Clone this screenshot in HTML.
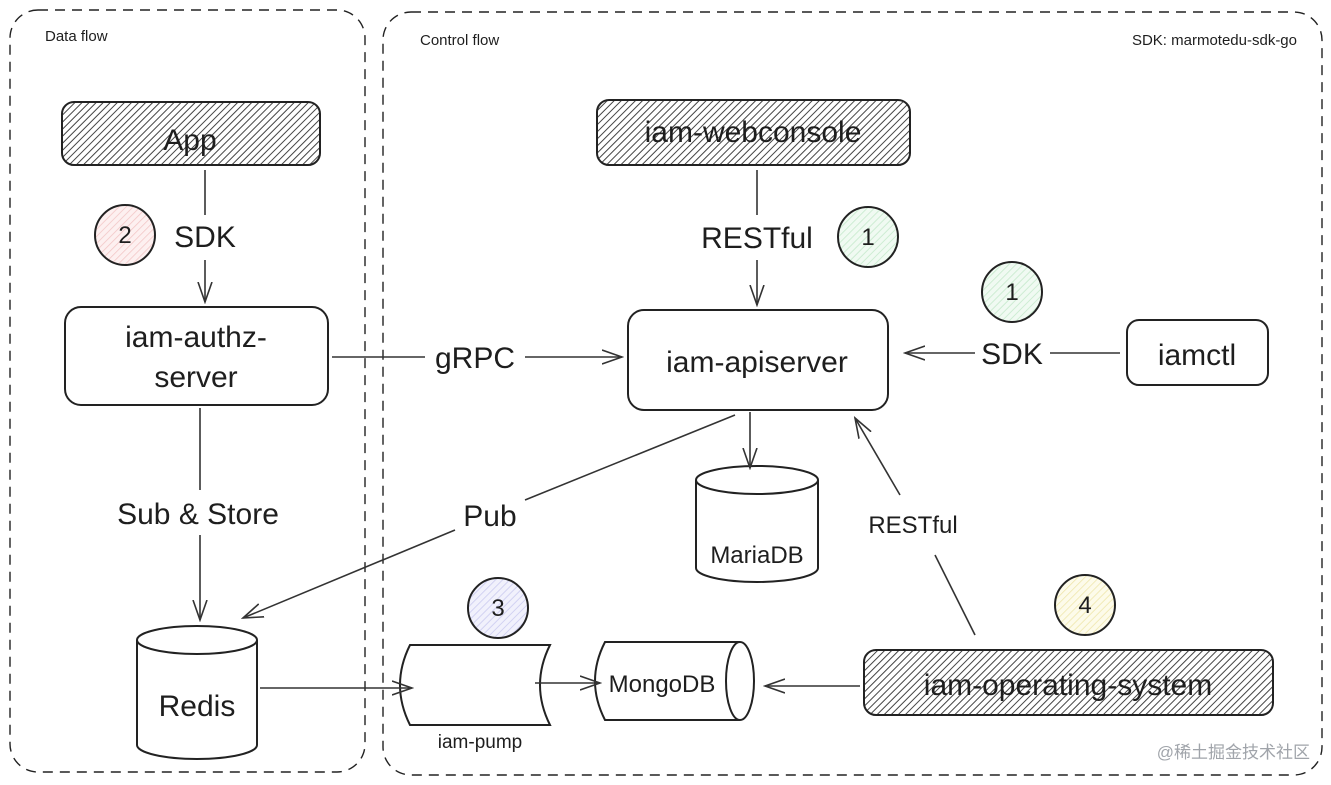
<!DOCTYPE html>
<html><head><meta charset="utf-8"><style>
html,body{margin:0;padding:0;background:#fff;width:1331px;height:785px;overflow:hidden}
svg{display:block}
text{font-family:"Liberation Sans","Noto Sans CJK SC",sans-serif;fill:#1e1e1e}
</style></head><body>
<svg width="1331" height="785" viewBox="0 0 1331 785" xmlns="http://www.w3.org/2000/svg">
<defs>
<pattern id="h" width="5" height="5" patternUnits="userSpaceOnUse" patternTransform="rotate(45)"><rect width="5" height="5" fill="#fff"/><line x1="0" y1="0" x2="0" y2="5" stroke="#444" stroke-width="2"/></pattern>
<pattern id="pk" width="5" height="5" patternUnits="userSpaceOnUse" patternTransform="rotate(45)"><rect width="5" height="5" fill="#fdf0f0"/><line x1="0" y1="0" x2="0" y2="5" stroke="#f2c4c4" stroke-width="1.5"/></pattern>
<pattern id="gr" width="5" height="5" patternUnits="userSpaceOnUse" patternTransform="rotate(45)"><rect width="5" height="5" fill="#f0faf2"/><line x1="0" y1="0" x2="0" y2="5" stroke="#c2e8c9" stroke-width="1.5"/></pattern>
<pattern id="pu" width="5" height="5" patternUnits="userSpaceOnUse" patternTransform="rotate(45)"><rect width="5" height="5" fill="#f1f1fc"/><line x1="0" y1="0" x2="0" y2="5" stroke="#c8c8ef" stroke-width="1.5"/></pattern>
<pattern id="ye" width="5" height="5" patternUnits="userSpaceOnUse" patternTransform="rotate(45)"><rect width="5" height="5" fill="#fdfbea"/><line x1="0" y1="0" x2="0" y2="5" stroke="#eee5a8" stroke-width="1.5"/></pattern>
<marker id="a" markerWidth="22" markerHeight="16" refX="20" refY="8" orient="auto" markerUnits="userSpaceOnUse"><path d="M0,1 L20,8 L0,15" fill="none" stroke="#333" stroke-width="1.6"/></marker>
</defs>
<g fill="none" stroke="#222" stroke-width="1.4">
<rect x="10" y="10" width="355" height="762" rx="28" stroke-dasharray="10,7"/>
<rect x="383" y="12" width="939" height="763" rx="28" stroke-dasharray="10,7"/>
</g>
<text x="45" y="41" font-size="15">Data flow</text>
<text x="420" y="45" font-size="15">Control flow</text>
<text x="1297" y="45" font-size="15" text-anchor="end">SDK: marmotedu-sdk-go</text>

<g stroke="#222" stroke-width="2">
<rect x="62" y="102" width="258" height="63" rx="12" fill="url(#h)"/>
<rect x="597" y="100" width="313" height="65" rx="12" fill="url(#h)"/>
<rect x="864" y="650" width="409" height="65" rx="12" fill="url(#h)"/>
<rect x="65" y="307" width="263" height="98" rx="16" fill="#fff"/>
<rect x="628" y="310" width="260" height="100" rx="16" fill="#fff"/>
<rect x="1127" y="320" width="141" height="65" rx="12" fill="#fff"/>
<circle cx="125" cy="235" r="30" fill="url(#pk)"/>
<circle cx="868" cy="237" r="30" fill="url(#gr)"/>
<circle cx="1012" cy="292" r="30" fill="url(#gr)"/>
<circle cx="498" cy="608" r="30" fill="url(#pu)"/>
<circle cx="1085" cy="605" r="30" fill="url(#ye)"/>
</g>
<g fill="#fff" stroke="#222" stroke-width="2">
<path d="M137,640 v105 a60,14 0 0 0 120,0 v-105"/><ellipse cx="197" cy="640" rx="60" ry="14"/>
<path d="M696,480 v88 a61,14 0 0 0 122,0 v-88"/><ellipse cx="757" cy="480" rx="61" ry="14"/>
<path d="M410,645 h140 q-20,40 0,80 h-140 q-20,-40 0,-80z"/>
<path d="M740,642 h-135 q-20,39 0,78 h135"/><ellipse cx="740" cy="681" rx="14" ry="39"/>
</g>
<g fill="none" stroke="#333" stroke-width="1.6">
<path d="M205,170 V215"/><path d="M205,260 V302" marker-end="url(#a)"/>
<path d="M757,170 V215"/><path d="M757,260 V305" marker-end="url(#a)"/>
<path d="M332,357 H425"/><path d="M525,357 H622" marker-end="url(#a)"/>
<path d="M1120,353 H1050"/><path d="M975,353 H905" marker-end="url(#a)"/>
<path d="M200,408 V490"/><path d="M200,535 V620" marker-end="url(#a)"/>
<path d="M750,412 V468" marker-end="url(#a)"/>
<path d="M735,415 L525,500"/><path d="M455,530 L243,618" marker-end="url(#a)"/>
<path d="M975,635 L935,555"/><path d="M900,495 L855,418" marker-end="url(#a)"/>
<path d="M260,688 L412,688" marker-end="url(#a)"/>
<path d="M535,683 L600,683" marker-end="url(#a)"/>
<path d="M860,686 L765,686" marker-end="url(#a)"/>
</g>
<g font-size="30" text-anchor="middle">
<text x="190" y="150">App</text>
<text x="753" y="142">iam-webconsole</text>
<text x="1068" y="695">iam-operating-system</text>
<text x="196" y="347">iam-authz-</text>
<text x="196" y="387">server</text>
<text x="757" y="372">iam-apiserver</text>
<text x="1197" y="365">iamctl</text>
<text x="205" y="247">SDK</text>
<text x="757" y="248">RESTful</text>
<text x="1012" y="364">SDK</text>
<text x="475" y="368">gRPC</text>
<text x="198" y="524">Sub &amp; Store</text>
<text x="490" y="526">Pub</text>
<text x="197" y="716">Redis</text>
</g>
<g font-size="24" text-anchor="middle">
<text x="913" y="533">RESTful</text>
<text x="757" y="563">MariaDB</text>
<text x="662" y="692">MongoDB</text>
<text x="125" y="243">2</text><text x="868" y="245">1</text><text x="1012" y="300">1</text>
<text x="498" y="616">3</text><text x="1085" y="613">4</text>
</g>
<text x="480" y="748" font-size="19" text-anchor="middle">iam-pump</text>
<text x="1310" y="758" font-size="17" text-anchor="end" style="fill:#a0a4aa">@稀土掘金技术社区</text>
</svg>
</body></html>
